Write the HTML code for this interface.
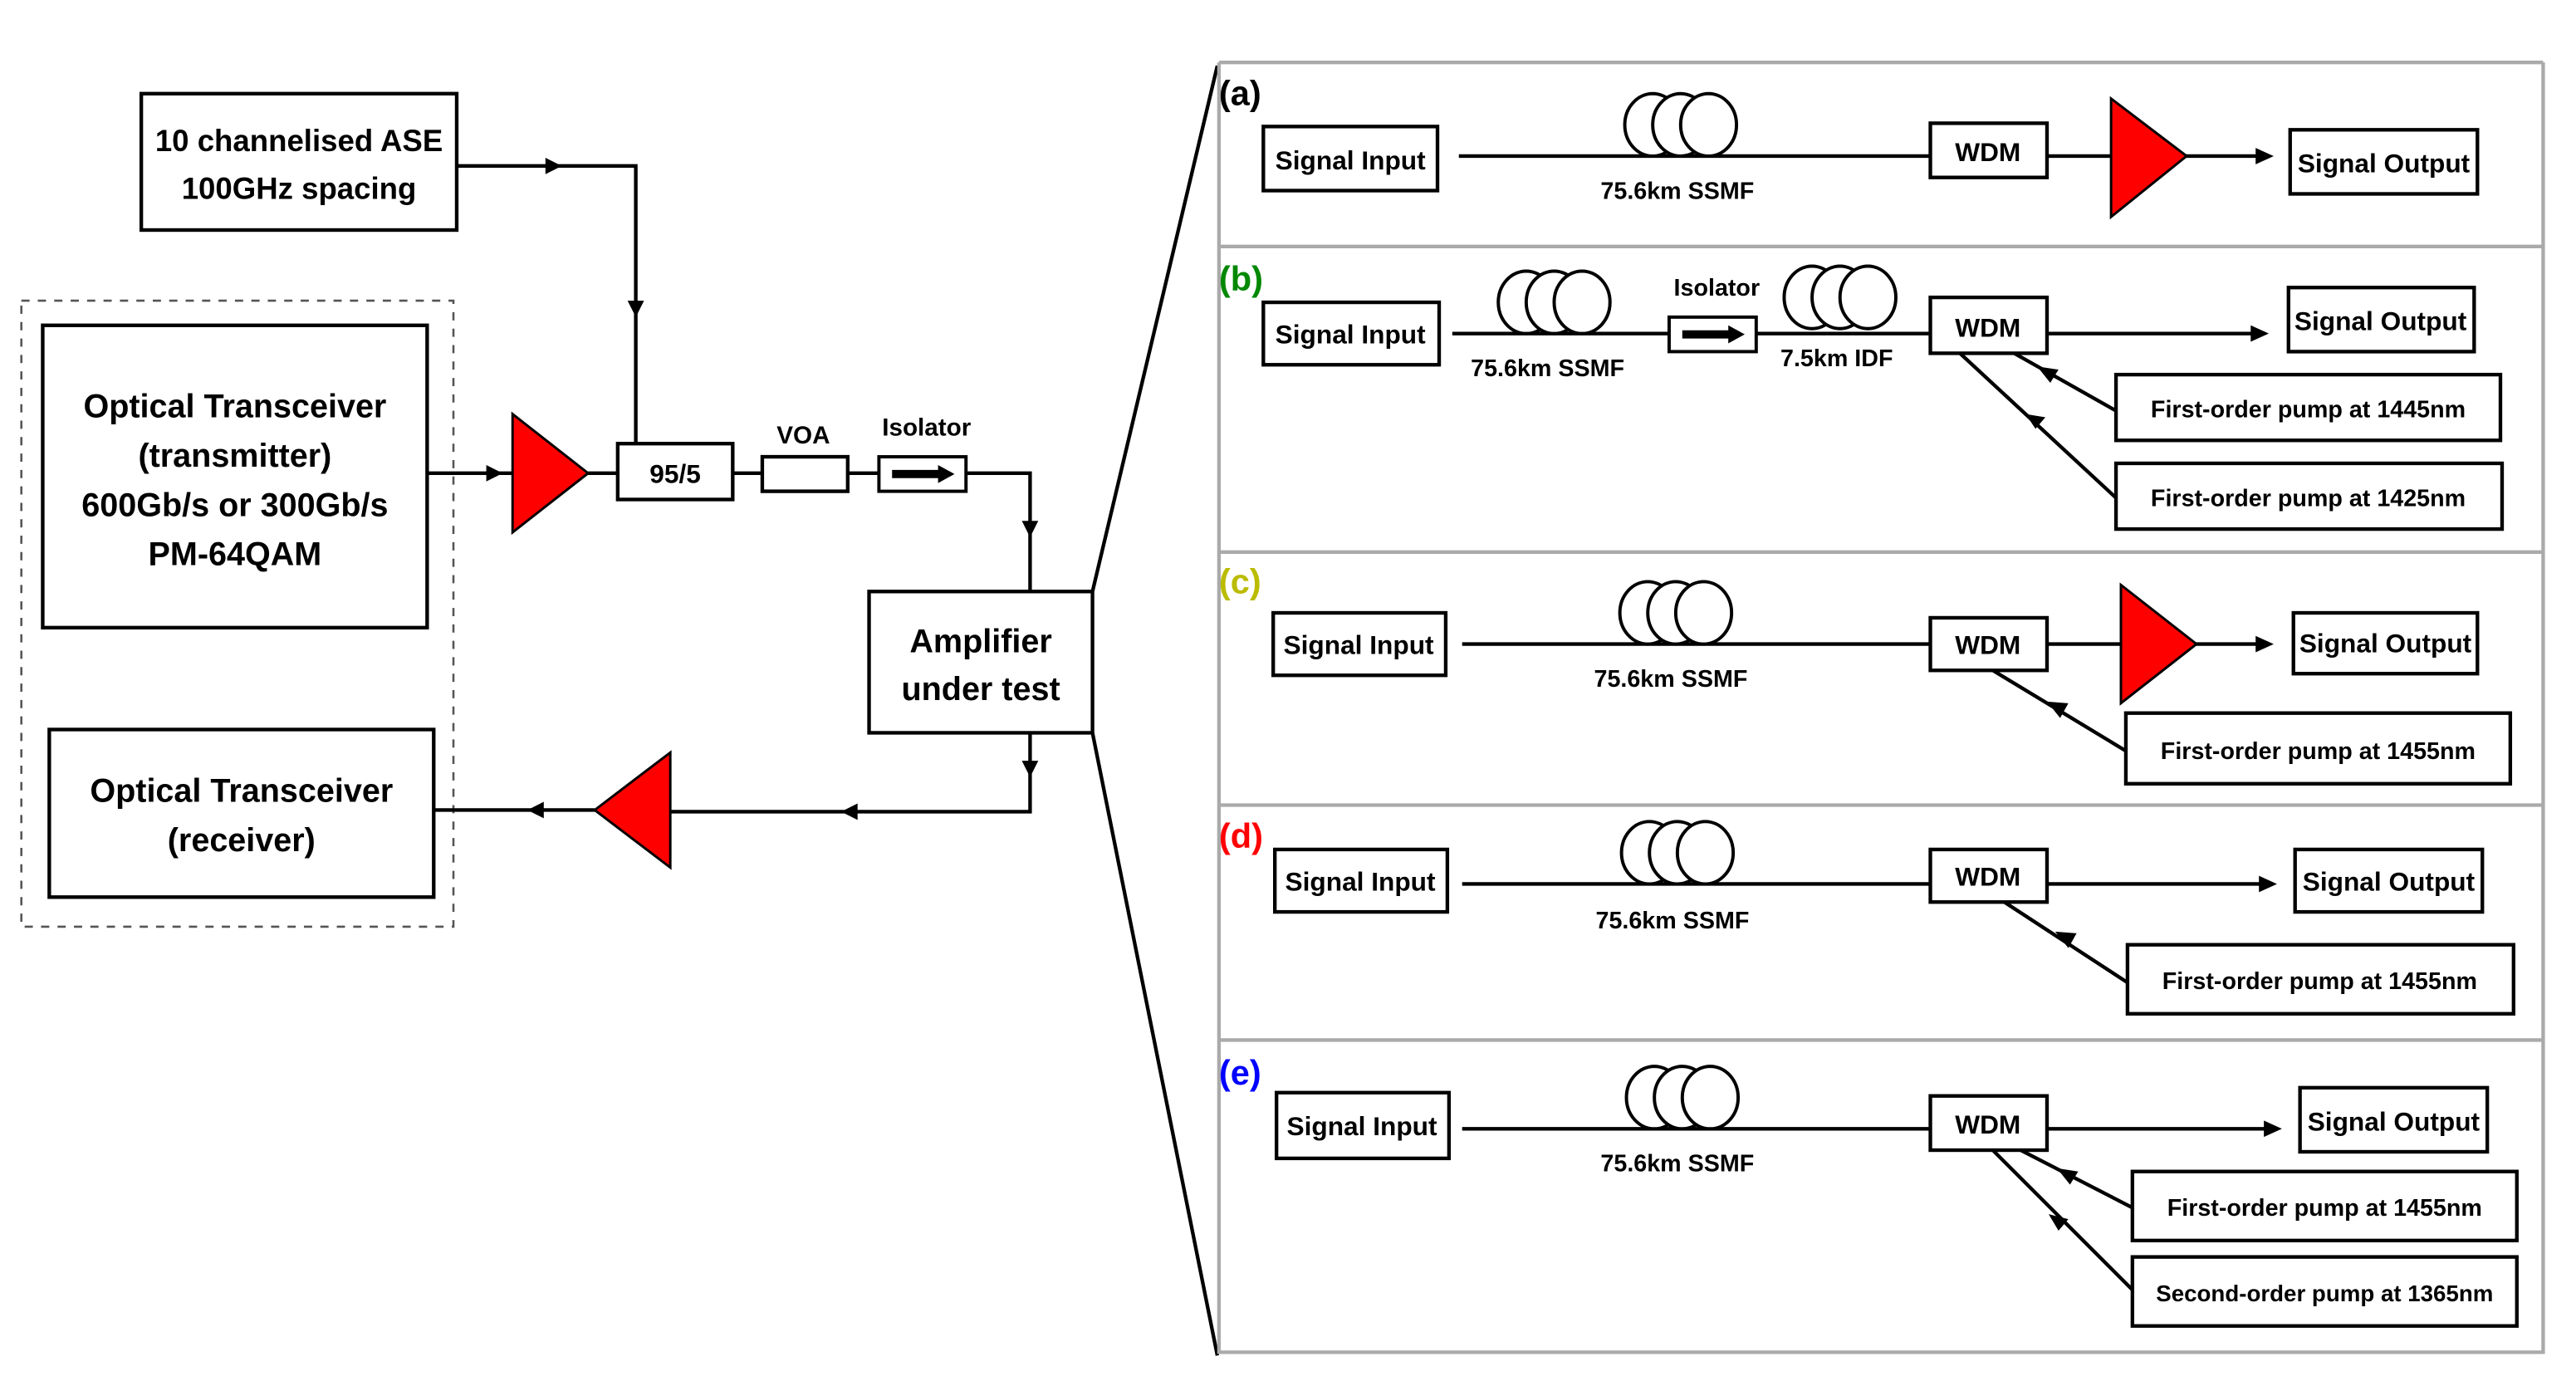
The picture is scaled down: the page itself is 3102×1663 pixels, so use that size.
<!DOCTYPE html>
<html><head><meta charset="utf-8"><style>
html,body{margin:0;padding:0;background:#fff;}
svg{display:block;}
text{font-family:"Liberation Sans",sans-serif;font-weight:bold;fill:#000;}
</style></head><body>
<svg width="3102" height="1663" viewBox="0 0 1568 840.5" preserveAspectRatio="none" xmlns="http://www.w3.org/2000/svg">
<defs>
<g id="coil" fill="#fff" stroke="#000" stroke-width="2">
<ellipse cx="-17" cy="0" rx="17" ry="19"/><ellipse cx="0" cy="0" rx="17" ry="19"/><ellipse cx="17" cy="0" rx="17" ry="19"/>
</g>
<g id="iso"><rect x="0" y="0" width="53" height="21" fill="#fff" stroke="#000" stroke-width="2"/><polygon points="8,8 36,8 36,5 46,10.5 36,16 36,13 8,13" fill="#000"/></g>
</defs>
<g stroke="#000" stroke-width="2.2" fill="none">
<rect x="86" y="57" width="192" height="83" fill="#fff"/>
<polyline points="278,101 387,101 387,270"/>
<rect x="13" y="183" width="263" height="381" stroke="#555" stroke-width="1.3" stroke-dasharray="5,5"/>
<rect x="26" y="198" width="234" height="184" fill="#fff"/>
<line x1="260" y1="288" x2="312" y2="288"/>
<line x1="358" y1="288" x2="376" y2="288"/>
<rect x="376" y="270" width="70" height="34" fill="#fff"/>
<line x1="446" y1="288" x2="464" y2="288"/>
<rect x="464" y="278" width="52" height="21" fill="#fff"/>
<line x1="516" y1="288" x2="535" y2="288"/>
<polyline points="588,288 627,288 627,360"/>
<rect x="529" y="360" width="136" height="86" fill="#fff"/>
<polyline points="627,446 627,494 408,494"/>
<line x1="362" y1="493" x2="264" y2="493"/>
<rect x="30" y="444" width="234" height="102" fill="#fff"/>
<line x1="665" y1="360" x2="741" y2="40"/>
<line x1="665" y1="446" x2="741" y2="825"/>
</g>
<use href="#iso" x="535" y="278"/>
<g fill="#000">
<polygon points="342,101 332,96 332,106"/>
<polygon points="387,193 382,183 392,183"/>
<polygon points="306,288 296,283 296,293"/>
<polygon points="627,327 622,317 632,317"/>
<polygon points="627,473 622,463 632,463"/>
<polygon points="512,494 522,489 522,499"/>
<polygon points="321,493 331,488 331,498"/>
</g>
<polygon points="312,252 312,324 358,288" fill="#f00" stroke="#000" stroke-width="1.5"/>
<polygon points="408,458 408,528 362,493" fill="#f00" stroke="#000" stroke-width="1.5"/>
<g font-size="18.5" text-anchor="middle">
<text x="182" y="92">10 channelised ASE</text>
<text x="182" y="121">100GHz spacing</text>
</g>
<g font-size="20" text-anchor="middle">
<text x="143" y="254">Optical Transceiver</text>
<text x="143" y="284">(transmitter)</text>
<text x="143" y="314">600Gb/s or 300Gb/s</text>
<text x="143" y="344">PM-64QAM</text>
<text x="147" y="488">Optical Transceiver</text>
<text x="147" y="518">(receiver)</text>
<text x="597" y="397">Amplifier</text>
<text x="597" y="426">under test</text>
</g>
<text x="411" y="294" font-size="16" text-anchor="middle">95/5</text>
<text x="489" y="270" font-size="15" text-anchor="middle">VOA</text>
<text x="564" y="265" font-size="15" text-anchor="middle">Isolator</text>

<g stroke="#aaa" stroke-width="2.2" fill="none">
<line x1="742" y1="38" x2="1548" y2="38"/>
<line x1="1548" y1="38" x2="1548" y2="824"/>
<line x1="742" y1="150" x2="1548" y2="150"/>
<line x1="742" y1="336" x2="1548" y2="336"/>
<line x1="742" y1="490" x2="1548" y2="490"/>
<line x1="742" y1="633" x2="1548" y2="633"/>
<line x1="742" y1="823" x2="1548" y2="823"/>
<line x1="742" y1="38" x2="742" y2="824"/>
</g>
<g font-size="21">
<text x="742" y="64">(a)</text>
<text x="742" y="177" style="fill:#080">(b)</text>
<text x="742" y="361" style="fill:#bb0">(c)</text>
<text x="742" y="516" style="fill:#f00">(d)</text>
<text x="742" y="660" style="fill:#00f">(e)</text>
</g>
<g stroke="#000" stroke-width="2.2" fill="#fff">
<line x1="888" y1="95" x2="1175" y2="95"/>
<line x1="1246" y1="95" x2="1376" y2="95"/>
<rect x="769" y="77" width="106" height="39"/>
<rect x="1175" y="75" width="71" height="33"/>
<rect x="1394" y="79" width="114" height="39"/>
<line x1="884" y1="203" x2="1175" y2="203"/>
<line x1="1246" y1="203" x2="1373" y2="203"/>
<rect x="769" y="184" width="107" height="38"/>
<rect x="1175" y="181" width="71" height="34"/>
<rect x="1393" y="175" width="113" height="39"/>
<rect x="1288" y="228" width="234" height="40"/>
<rect x="1288" y="282" width="235" height="40"/>
<line x1="1226" y1="215" x2="1288" y2="250"/>
<line x1="1193" y1="215" x2="1288" y2="303"/>
<line x1="890" y1="392" x2="1175" y2="392"/>
<line x1="1246" y1="392" x2="1376" y2="392"/>
<rect x="775" y="373" width="105" height="38"/>
<rect x="1175" y="376" width="71" height="32"/>
<rect x="1396" y="373" width="112" height="37"/>
<rect x="1294" y="434" width="234" height="43"/>
<line x1="1213" y1="408" x2="1294" y2="457"/>
<line x1="890" y1="538" x2="1175" y2="538"/>
<line x1="1246" y1="538" x2="1378" y2="538"/>
<rect x="776" y="517" width="105" height="38"/>
<rect x="1175" y="517" width="71" height="32"/>
<rect x="1397" y="517" width="114" height="38"/>
<rect x="1295" y="575" width="235" height="42"/>
<line x1="1220" y1="549" x2="1295" y2="598"/>
<line x1="890" y1="687" x2="1175" y2="687"/>
<line x1="1246" y1="687" x2="1381" y2="687"/>
<rect x="777" y="665" width="105" height="40"/>
<rect x="1175" y="667" width="71" height="33"/>
<rect x="1400" y="662" width="114" height="39"/>
<rect x="1298" y="713" width="234" height="42"/>
<rect x="1298" y="765" width="234" height="42"/>
<line x1="1230" y1="700" x2="1298" y2="735"/>
<line x1="1213" y1="700" x2="1298" y2="785"/>
</g>
<use href="#coil" x="1023" y="76"/>
<use href="#coil" x="946" y="184"/>
<use href="#coil" x="1120" y="181"/>
<use href="#coil" x="1020" y="373"/>
<use href="#coil" x="1021" y="519"/>
<use href="#coil" x="1024" y="668"/>
<use href="#iso" x="1016" y="193"/>
<polygon points="1285,60 1285,132 1331,95" fill="#f00" stroke="#000" stroke-width="1.5"/>
<polygon points="1291,356 1291,428 1337,392" fill="#f00" stroke="#000" stroke-width="1.5"/>
<g fill="#000">
<polygon points="1384,95 1373,90 1373,100"/>
<polygon points="1381,203 1370,198 1370,208"/>
<polygon points="1384,392 1373,387 1373,397"/>
<polygon points="1386,538 1375,533 1375,543"/>
<polygon points="1389,687 1378,682 1378,692"/>
<polygon points="1240,223 1253,225 1248,233"/>
<polygon points="1233,252 1245,254 1239,261"/>
<polygon points="1246,427 1259,428 1254,437"/>
<polygon points="1251,567 1264,568 1259,577"/>
<polygon points="1252,711 1265,713 1260,721"/>
<polygon points="1247,739 1259,742 1253,749"/>
</g>
<g font-size="16" text-anchor="middle">
<text x="822" y="103">Signal Input</text>
<text x="1210" y="98">WDM</text>
<text x="1451" y="105">Signal Output</text>
<text x="822" y="209">Signal Input</text>
<text x="1210" y="205">WDM</text>
<text x="1449" y="201">Signal Output</text>
<text x="827" y="398">Signal Input</text>
<text x="1210" y="398">WDM</text>
<text x="1452" y="397">Signal Output</text>
<text x="828" y="542">Signal Input</text>
<text x="1210" y="539">WDM</text>
<text x="1454" y="542">Signal Output</text>
<text x="829" y="691">Signal Input</text>
<text x="1210" y="690">WDM</text>
<text x="1457" y="688">Signal Output</text>
</g>
<g font-size="14.5" text-anchor="middle">
<text x="1021" y="121">75.6km SSMF</text>
<text x="942" y="229">75.6km SSMF</text>
<text x="1045" y="180">Isolator</text>
<text x="1118" y="223">7.5km IDF</text>
<text x="1017" y="418">75.6km SSMF</text>
<text x="1018" y="565">75.6km SSMF</text>
<text x="1021" y="713">75.6km SSMF</text>
<text x="1405" y="254">First-order pump at 1445nm</text>
<text x="1405" y="308">First-order pump at 1425nm</text>
<text x="1411" y="462">First-order pump at 1455nm</text>
<text x="1412" y="602">First-order pump at 1455nm</text>
<text x="1415" y="740">First-order pump at 1455nm</text>
<text x="1415" y="792" font-size="14">Second-order pump at 1365nm</text>
</g>
</svg>
</body></html>
